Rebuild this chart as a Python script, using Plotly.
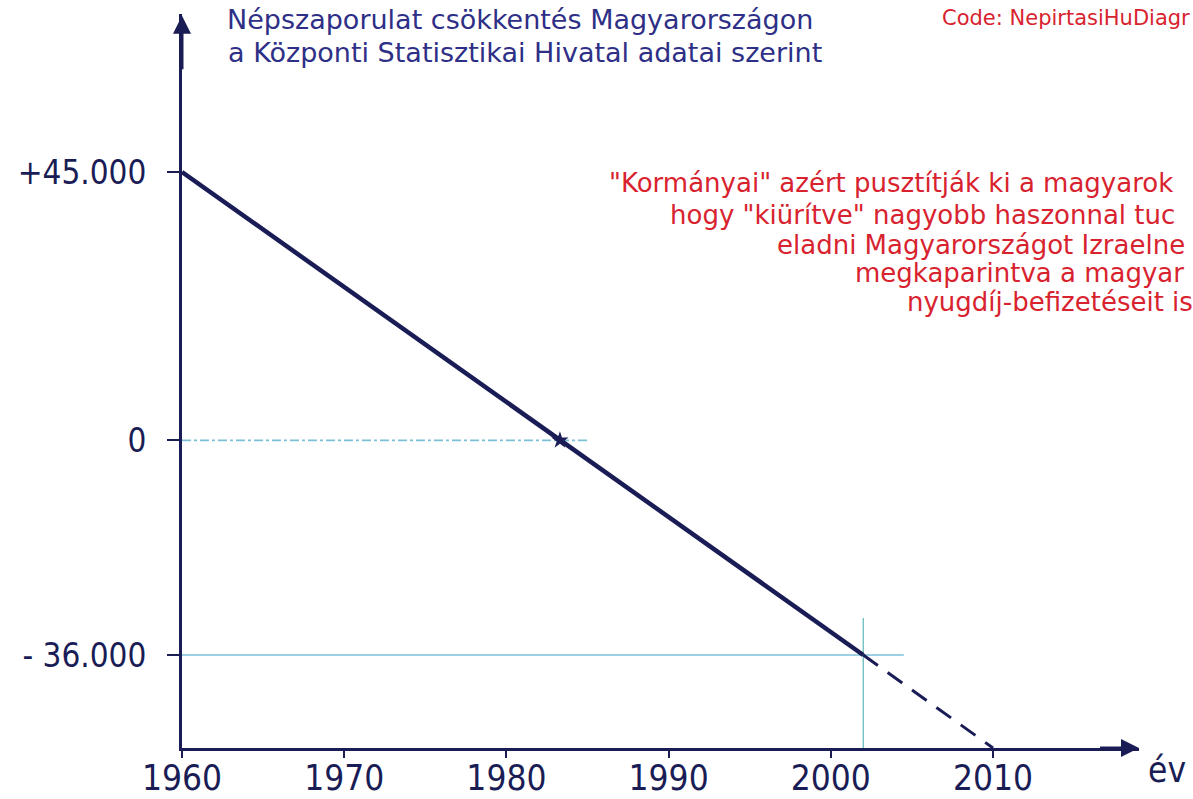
import plotly.graph_objects as go

# ---- data ----
line_years = [1960, 2002]
line_values = [45000, -36000]
dash_years = [2002, 2010]
dash_values = [-36000, -51600]
zero_cross_year = [1983.3]
zero_cross_value = [0]

x_tickvals = [1960, 1970, 1980, 1990, 2000, 2010]
x_ticktext = ["1960", "1970", "1980", "1990", "2000", "2010"]
y_tickvals = [45000, 0, -36000]
y_ticktext = ["+45.000", "0", "- 36.000"]

zero_guide_years = [1960, 1985]
zero_guide_values = [0, 0]
low_guide_years = [1960, 2004.5]
low_guide_values = [-36000, -36000]
vert_guide_years = [2002, 2002]
vert_guide_values = [-29800, -51600]

title_lines = ["Népszaporulat csökkentés Magyarországon",
               "a Központi Statisztikai Hivatal adatai szerint"]
red_lines = ['"Kormányai" azért pusztítják ki a magyarok',
             'hogy "kiürítve" nagyobb haszonnal tuc',
             'eladni Magyarországot Izraelne',
             'megkaparintva a magyar',
             'nyugdíj-befizetéseit is']
code_text = "Code: NepirtasiHuDiagr"
x_axis_label = "év"

# ---- styling ----
W, H = 1193, 799
ML, MR, MT, MB = 182, 54, 14, 51
FONT_C = "DejaVu Sans Condensed, Liberation Sans Narrow, Roboto, sans-serif"
FONT = "DejaVu Sans, Verdana, sans-serif"
NAVY = "#1a1d55"
TITLE_C = "#2e2f86"
RED = "#d8232f"
GUIDE = "#7cc0d6"

X_RANGE = [1960, 2019]
Y_RANGE = [-51600, 71500]

def px_x(px):
    return (px - ML) / (W - ML - MR)

def px_y(py):
    return (H - MB - py) / (H - MT - MB)

fig = go.Figure()

fig.add_trace(go.Scatter(x=zero_guide_years, y=zero_guide_values, mode="lines",
                         line=dict(color=GUIDE, width=1.6, dash="dashdot"),
                         hoverinfo="skip", showlegend=False))
fig.add_trace(go.Scatter(x=low_guide_years, y=low_guide_values, mode="lines",
                         line=dict(color=GUIDE, width=1.6),
                         hoverinfo="skip", showlegend=False))
fig.add_trace(go.Scatter(x=vert_guide_years, y=vert_guide_values, mode="lines",
                         line=dict(color="#5fb8b8", width=1.2),
                         hoverinfo="skip", showlegend=False))
fig.add_trace(go.Scatter(x=line_years, y=line_values, mode="lines",
                         line=dict(color=NAVY, width=4.5),
                         showlegend=False))
fig.add_trace(go.Scatter(x=dash_years, y=dash_values, mode="lines",
                         line=dict(color=NAVY, width=3, dash="18px,12px"),
                         showlegend=False))
fig.add_trace(go.Scatter(x=zero_cross_year, y=zero_cross_value, mode="markers",
                         marker=dict(symbol="star", size=13, color=NAVY),
                         showlegend=False))

# axis arrows
fig.add_annotation(x=X_RANGE[1], y=Y_RANGE[0], ax=2016.5, ay=Y_RANGE[0],
                   xref="x", yref="y", axref="x", ayref="y",
                   showarrow=True, arrowhead=2, arrowsize=1.2, arrowwidth=3,
                   arrowcolor=NAVY, text="")
fig.add_annotation(x=1960, y=Y_RANGE[1] - 300, ax=1960, ay=62000,
                   xref="x", yref="y", axref="x", ayref="y",
                   showarrow=True, arrowhead=2, arrowsize=1.2, arrowwidth=3,
                   arrowcolor=NAVY, text="")

fig.add_annotation(x=px_x(520), y=px_y(19), xref="paper", yref="paper",
                   text=title_lines[0], showarrow=False, xanchor="center", yanchor="middle",
                   font=dict(family=FONT, size=27, color=TITLE_C))
fig.add_annotation(x=px_x(525), y=px_y(53), xref="paper", yref="paper",
                   text=title_lines[1], showarrow=False, xanchor="center", yanchor="middle",
                   font=dict(family=FONT, size=27, color=TITLE_C))

red_x = [607, 668, 775, 853, 905]
red_y = [183, 215, 245, 273, 302]
for t, rx, ry in zip(red_lines, red_x, red_y):
    fig.add_annotation(x=px_x(rx), y=px_y(ry), xref="paper", yref="paper",
                       text=t, showarrow=False, xanchor="left", yanchor="middle",
                       font=dict(family=FONT, size=26, color=RED))

fig.add_annotation(x=px_x(940), y=px_y(18), xref="paper", yref="paper",
                   text=code_text, showarrow=False, xanchor="left", yanchor="middle",
                   font=dict(family=FONT, size=21, color=RED))

fig.add_annotation(x=px_x(1167), y=px_y(770), xref="paper", yref="paper",
                   text=x_axis_label, showarrow=False, xanchor="center", yanchor="middle",
                   font=dict(family=FONT_C, size=35, color=NAVY))

fig.update_xaxes(range=X_RANGE, tickvals=x_tickvals, ticktext=x_ticktext, automargin=False,
                 showgrid=False, zeroline=False, showline=True, linecolor=NAVY, linewidth=3,
                 ticks="outside", ticklen=7, tickwidth=2, tickcolor=NAVY,
                 tickfont=dict(family=FONT_C, size=35, color=NAVY), ticklabelstandoff=-10)
fig.update_yaxes(range=Y_RANGE, tickvals=y_tickvals, ticktext=y_ticktext, automargin=False,
                 showgrid=False, zeroline=False, showline=True, linecolor=NAVY, linewidth=3,
                 ticks="outside", ticklen=12, tickwidth=2, tickcolor=NAVY,
                 tickfont=dict(family=FONT_C, size=33, color=NAVY), ticklabelstandoff=14)

fig.update_layout(width=W, height=H, margin=dict(l=ML, r=MR, t=MT, b=MB, autoexpand=False),
                  plot_bgcolor="white", paper_bgcolor="white", showlegend=False)

fig.write_html("out.html", config={"displayModeBar": False},
               post_script="document.body.style.margin='0';")
